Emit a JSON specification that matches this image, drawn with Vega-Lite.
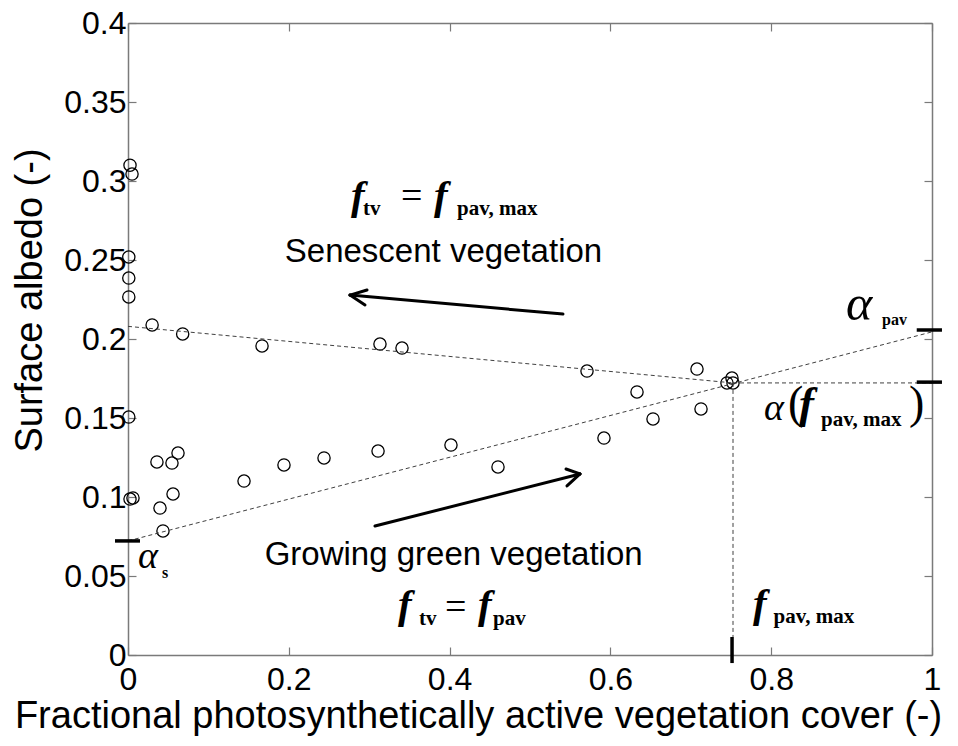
{
  "$schema": "https://vega.github.io/schema/vega-lite/v6.json",
  "width": 804,
  "height": 632,
  "autosize": {"type": "none"},
  "padding": {"left": 128, "top": 23, "right": 26, "bottom": 91},
  "background": "white",
  "config": {
    "view": {"stroke": null},
    "axis": {
      "domainColor": "#7a7a7a", "domainWidth": 1.5,
      "tickColor": "#7a7a7a", "tickSize": -8, "tickWidth": 1.2,
      "labelFont": "Liberation Sans", "labelFontSize": 32, "labelColor": "black",
      "titleFont": "Liberation Sans", "titleFontSize": 38, "titleFontWeight": "normal", "titleColor": "black",
      "grid": false, "labelFlush": false, "labelOverlap": false
    }
  },
  "resolve": {"axis": {"x": "independent", "y": "independent"}},
  "layer": [
    {
      "data": {"values": [
        {"f": 0.0025, "a": 0.310}, {"f": 0.005, "a": 0.3044}, {"f": 0.001, "a": 0.2519}, {"f": 0.001, "a": 0.2386},
        {"f": 0.001, "a": 0.2266}, {"f": 0.030, "a": 0.2089}, {"f": 0.068, "a": 0.2032}, {"f": 0.1667, "a": 0.1956},
        {"f": 0.3134, "a": 0.1968}, {"f": 0.3408, "a": 0.1943}, {"f": 0.5709, "a": 0.1797}, {"f": 0.7077, "a": 0.1810},
        {"f": 0.745, "a": 0.1722}, {"f": 0.7512, "a": 0.1753}, {"f": 0.7525, "a": 0.1722}, {"f": 0.001, "a": 0.1506},
        {"f": 0.036, "a": 0.1222}, {"f": 0.0547, "a": 0.1215}, {"f": 0.0622, "a": 0.1278}, {"f": 0.0025, "a": 0.0987},
        {"f": 0.0062, "a": 0.0994}, {"f": 0.056, "a": 0.1019}, {"f": 0.0398, "a": 0.0930}, {"f": 0.0435, "a": 0.0785},
        {"f": 0.1443, "a": 0.1101}, {"f": 0.194, "a": 0.1203}, {"f": 0.2438, "a": 0.1247}, {"f": 0.311, "a": 0.1291},
        {"f": 0.4017, "a": 0.1329}, {"f": 0.4602, "a": 0.119}, {"f": 0.592, "a": 0.1373}, {"f": 0.6331, "a": 0.1665},
        {"f": 0.653, "a": 0.1494}, {"f": 0.7127, "a": 0.1557}
      ]},
      "mark": {"type": "point", "shape": "circle", "filled": false, "stroke": "black", "strokeWidth": 1.3, "size": 150, "opacity": 1},
      "encoding": {
        "x": {"field": "f", "type": "quantitative", "scale": {"domain": [0, 1], "nice": false, "zero": false},
          "axis": {"orient": "bottom", "values": [0, 0.2, 0.4, 0.6, 0.8, 1], "format": "~g", "labelPadding": 17,
            "title": "Fractional photosynthetically active vegetation cover (-)", "titleX": 350, "titleY": 72, "titleBaseline": "alphabetic"}},
        "y": {"field": "a", "type": "quantitative", "scale": {"domain": [0, 0.4], "nice": false, "zero": false},
          "axis": {"orient": "left", "values": [0, 0.05, 0.1, 0.15, 0.2, 0.25, 0.3, 0.35, 0.4], "format": "~g", "labelPadding": 10,
            "title": "Surface albedo (-)", "titlePadding": 14, "titleY": 277}}
      }
    },
    {
      "data": {"values": [
        {"x1": 0, "y1": 0.208, "x2": 0.7525, "y2": 0.1722},
        {"x1": 0.7525, "y1": 0.1722, "x2": 1, "y2": 0.1722},
        {"x1": 0, "y1": 0.0722, "x2": 1, "y2": 0.2045},
        {"x1": 0.7525, "y1": 0.1722, "x2": 0.7525, "y2": 0.0114}
      ]},
      "mark": {"type": "rule", "color": "#404040", "strokeWidth": 1, "strokeDash": [4, 3]},
      "encoding": {
        "x": {"field": "x1", "type": "quantitative", "scale": {"domain": [0, 1], "nice": false, "zero": false},
          "axis": {"orient": "top", "values": [0, 0.2, 0.4, 0.6, 0.8, 1], "labels": false, "title": null}},
        "y": {"field": "y1", "type": "quantitative", "scale": {"domain": [0, 0.4], "nice": false, "zero": false},
          "axis": {"orient": "right", "values": [0, 0.05, 0.1, 0.15, 0.2, 0.25, 0.3, 0.35, 0.4], "labels": false, "title": null}},
        "x2": {"field": "x2"},
        "y2": {"field": "y2"}
      }
    },
    {
      "data": {"values": [
        {"x1": -0.0162, "y1": 0.0722, "x2": 0.0149, "y2": 0.0722},
        {"x1": 0.981, "y1": 0.2057, "x2": 1.0124, "y2": 0.2057},
        {"x1": 0.981, "y1": 0.1727, "x2": 1.0124, "y2": 0.1727},
        {"x1": 0.7513, "y1": 0.0114, "x2": 0.7513, "y2": -0.0051}
      ]},
      "mark": {"type": "rule", "color": "black", "strokeWidth": 3.5},
      "encoding": {
        "x": {"field": "x1", "type": "quantitative", "scale": {"domain": [0, 1], "nice": false, "zero": false}, "axis": null},
        "y": {"field": "y1", "type": "quantitative", "scale": {"domain": [0, 0.4], "nice": false, "zero": false}, "axis": null},
        "x2": {"field": "x2"},
        "y2": {"field": "y2"}
      }
    },
    {
      "data": {"values": [
        {"x1": 0.541, "y1": 0.2158, "x2": 0.2761, "y2": 0.2278},
        {"x1": 0.2761, "y1": 0.2278, "x2": 0.2973, "y2": 0.2310},
        {"x1": 0.2761, "y1": 0.2278, "x2": 0.2948, "y2": 0.2215},
        {"x1": 0.3072, "y1": 0.0816, "x2": 0.5622, "y2": 0.1146},
        {"x1": 0.5622, "y1": 0.1146, "x2": 0.5448, "y2": 0.1177},
        {"x1": 0.5622, "y1": 0.1146, "x2": 0.5460, "y2": 0.1070}
      ]},
      "mark": {"type": "rule", "color": "black", "strokeWidth": 3, "strokeCap": "round"},
      "encoding": {
        "x": {"field": "x1", "type": "quantitative", "scale": {"domain": [0, 1], "nice": false, "zero": false}, "axis": null},
        "y": {"field": "y1", "type": "quantitative", "scale": {"domain": [0, 0.4], "nice": false, "zero": false}, "axis": null},
        "x2": {"field": "x2"},
        "y2": {"field": "y2"}
      }
    },
    {
      "data": {"values": [
        {"x": 0.195, "y": 0.2487, "t": "Senescent vegetation"},
        {"x": 0.170, "y": 0.057, "t": "Growing green vegetation"}
      ]},
      "mark": {"type": "text", "font": "Liberation Sans", "fontSize": 33, "align": "left", "baseline": "alphabetic", "color": "black"},
      "encoding": {
        "x": {"field": "x", "type": "quantitative", "scale": {"domain": [0, 1], "nice": false, "zero": false}, "axis": null},
        "y": {"field": "y", "type": "quantitative", "scale": {"domain": [0, 0.4], "nice": false, "zero": false}, "axis": null},
        "text": {"field": "t"}
      }
    },
    {
      "data": {"values": [
        {"x": 0.2774, "y": 0.2823, "t": "f"},
        {"x": 0.3806, "y": 0.2823, "t": "f"},
        {"x": 0.3358, "y": 0.0234, "t": "f"},
        {"x": 0.4353, "y": 0.0234, "t": "f"},
        {"x": 0.7774, "y": 0.024, "t": "f"}
      ]},
      "mark": {"type": "text", "font": "Liberation Serif", "fontSize": 41, "fontStyle": "italic", "fontWeight": "bold", "align": "left", "baseline": "alphabetic", "color": "black"},
      "encoding": {
        "x": {"field": "x", "type": "quantitative", "scale": {"domain": [0, 1], "nice": false, "zero": false}, "axis": null},
        "y": {"field": "y", "type": "quantitative", "scale": {"domain": [0, 0.4], "nice": false, "zero": false}, "axis": null},
        "text": {"field": "t"}
      }
    },
    {
      "data": {"values": [
        {"x": 0.8346, "y": 0.15, "t": "f"}
      ]},
      "mark": {"type": "text", "font": "Liberation Serif", "fontSize": 45, "fontStyle": "italic", "fontWeight": "bold", "align": "left", "baseline": "alphabetic", "color": "black"},
      "encoding": {
        "x": {"field": "x", "type": "quantitative", "scale": {"domain": [0, 1], "nice": false, "zero": false}, "axis": null},
        "y": {"field": "y", "type": "quantitative", "scale": {"domain": [0, 0.4], "nice": false, "zero": false}, "axis": null},
        "text": {"field": "t"}
      }
    },
    {
      "data": {"values": [
        {"x": 0.2923, "y": 0.2785, "t": "tv"},
        {"x": 0.4092, "y": 0.2785, "t": "pav, max"},
        {"x": 0.3620, "y": 0.019, "t": "tv"},
        {"x": 0.4540, "y": 0.019, "t": "pav"},
        {"x": 0.803, "y": 0.0203, "t": "pav, max"},
        {"x": 0.8620, "y": 0.1449, "t": "pav, max"}
      ]},
      "mark": {"type": "text", "font": "Liberation Serif", "fontSize": 21, "fontWeight": "bold", "align": "left", "baseline": "alphabetic", "color": "black"},
      "encoding": {
        "x": {"field": "x", "type": "quantitative", "scale": {"domain": [0, 1], "nice": false, "zero": false}, "axis": null},
        "y": {"field": "y", "type": "quantitative", "scale": {"domain": [0, 0.4], "nice": false, "zero": false}, "axis": null},
        "text": {"field": "t"}
      }
    },
    {
      "data": {"values": [
        {"x": 0.0423, "y": 0.0487, "t": "s"},
        {"x": 0.9378, "y": 0.2089, "t": "pav"}
      ]},
      "mark": {"type": "text", "font": "Liberation Serif", "fontSize": 16, "fontWeight": "bold", "align": "left", "baseline": "alphabetic", "color": "black"},
      "encoding": {
        "x": {"field": "x", "type": "quantitative", "scale": {"domain": [0, 1], "nice": false, "zero": false}, "axis": null},
        "y": {"field": "y", "type": "quantitative", "scale": {"domain": [0, 0.4], "nice": false, "zero": false}, "axis": null},
        "text": {"field": "t"}
      }
    },
    {
      "data": {"values": [
        {"x": 0.3396, "y": 0.2832, "t": "="},
        {"x": 0.3943, "y": 0.0225, "t": "="}
      ]},
      "mark": {"type": "text", "font": "Liberation Serif", "fontSize": 38, "align": "left", "baseline": "alphabetic", "color": "black"},
      "encoding": {
        "x": {"field": "x", "type": "quantitative", "scale": {"domain": [0, 1], "nice": false, "zero": false}, "axis": null},
        "y": {"field": "y", "type": "quantitative", "scale": {"domain": [0, 0.4], "nice": false, "zero": false}, "axis": null},
        "text": {"field": "t"}
      }
    },
    {
      "data": {"values": [
        {"x": 0.8210, "y": 0.15, "t": "("},
        {"x": 0.9714, "y": 0.15, "t": ")"}
      ]},
      "mark": {"type": "text", "font": "Liberation Serif", "fontSize": 46, "align": "left", "baseline": "alphabetic", "color": "black"},
      "encoding": {
        "x": {"field": "x", "type": "quantitative", "scale": {"domain": [0, 1], "nice": false, "zero": false}, "axis": null},
        "y": {"field": "y", "type": "quantitative", "scale": {"domain": [0, 0.4], "nice": false, "zero": false}, "axis": null},
        "text": {"field": "t"}
      }
    },
    {
      "data": {"values": [
        {"x": 0.0125, "y": 0.0551, "t": "α"}
      ]},
      "mark": {"type": "text", "font": "Liberation Serif", "fontSize": 38, "fontStyle": "italic", "align": "left", "baseline": "alphabetic", "color": "black"},
      "encoding": {
        "x": {"field": "x", "type": "quantitative", "scale": {"domain": [0, 1], "nice": false, "zero": false}, "axis": null},
        "y": {"field": "y", "type": "quantitative", "scale": {"domain": [0, 0.4], "nice": false, "zero": false}, "axis": null},
        "text": {"field": "t"}
      }
    },
    {
      "data": {"values": [
        {"x": 0.8930, "y": 0.212, "t": "α"}
      ]},
      "mark": {"type": "text", "font": "Liberation Serif", "fontSize": 50, "fontStyle": "italic", "align": "left", "baseline": "alphabetic", "color": "black"},
      "encoding": {
        "x": {"field": "x", "type": "quantitative", "scale": {"domain": [0, 1], "nice": false, "zero": false}, "axis": null},
        "y": {"field": "y", "type": "quantitative", "scale": {"domain": [0, 0.4], "nice": false, "zero": false}, "axis": null},
        "text": {"field": "t"}
      }
    },
    {
      "data": {"values": [
        {"x": 0.7910, "y": 0.1487, "t": "α"}
      ]},
      "mark": {"type": "text", "font": "Liberation Serif", "fontSize": 38, "fontStyle": "italic", "align": "left", "baseline": "alphabetic", "color": "black"},
      "encoding": {
        "x": {"field": "x", "type": "quantitative", "scale": {"domain": [0, 1], "nice": false, "zero": false}, "axis": null},
        "y": {"field": "y", "type": "quantitative", "scale": {"domain": [0, 0.4], "nice": false, "zero": false}, "axis": null},
        "text": {"field": "t"}
      }
    }
  ]
}
